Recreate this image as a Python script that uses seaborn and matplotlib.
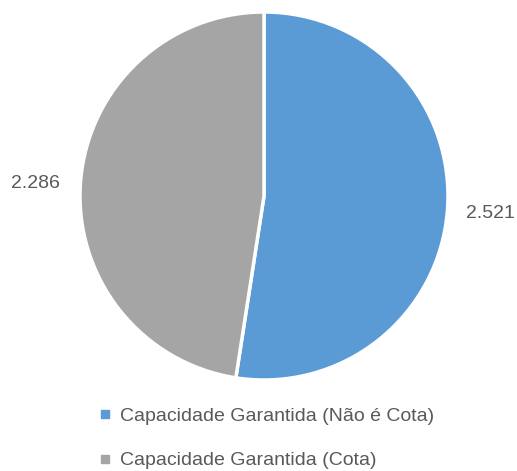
import matplotlib
matplotlib.use("Agg")
import matplotlib.pyplot as plt
from matplotlib.lines import Line2D
from matplotlib import font_manager
import seaborn as sns

categories = ["Capacidade Garantida (Não é Cota)", "Capacidade Garantida (Cota)"]
values = [2521, 2286]
value_labels = ["2.521", "2.286"]
colors = ["#5B9BD5", "#A5A5A5"]

sns.set_theme(style="white")
names = {f.name for f in font_manager.fontManager.ttflist}
family = "Liberation Sans Narrow" if "Liberation Sans Narrow" in names else "Liberation Sans"
plt.rcParams["font.family"] = [family, "DejaVu Sans"]
text_color = "#595959"

W, H = 517, 471
fig = plt.figure(figsize=(W / 100, H / 100), dpi=100)
ax = fig.add_axes([0, 0, 1, 1])

cx, cy, r = 264, H - 196, 184
wedges, _ = ax.pie(
    values, colors=colors, startangle=90, counterclock=False,
    center=(cx, cy), radius=r, frame=True,
    wedgeprops=dict(edgecolor="white", linewidth=2.5),
)
ax.set_xlim(0, W)
ax.set_ylim(0, H)
ax.set_aspect("equal")
ax.axis("off")

# value labels beside each slice
ax.text(490, H - 213, value_labels[0], ha="center", va="center", fontsize=14, color=text_color)
ax.text(35, H - 183, value_labels[1], ha="center", va="center", fontsize=14, color=text_color)

handles = [Line2D([0], [0], marker="s", linestyle="none", markersize=6,
                  markerfacecolor=c, markeredgecolor=c) for c in colors]
leg = fig.legend(handles, categories, loc="upper left", bbox_to_anchor=(95 / W, 1 - 407 / H),
                 frameon=False, fontsize=14, labelcolor=text_color, handletextpad=0.3,
                 labelspacing=1.4, handlelength=1.0, borderaxespad=0, borderpad=0)

fig.savefig("out.png", dpi=100)
